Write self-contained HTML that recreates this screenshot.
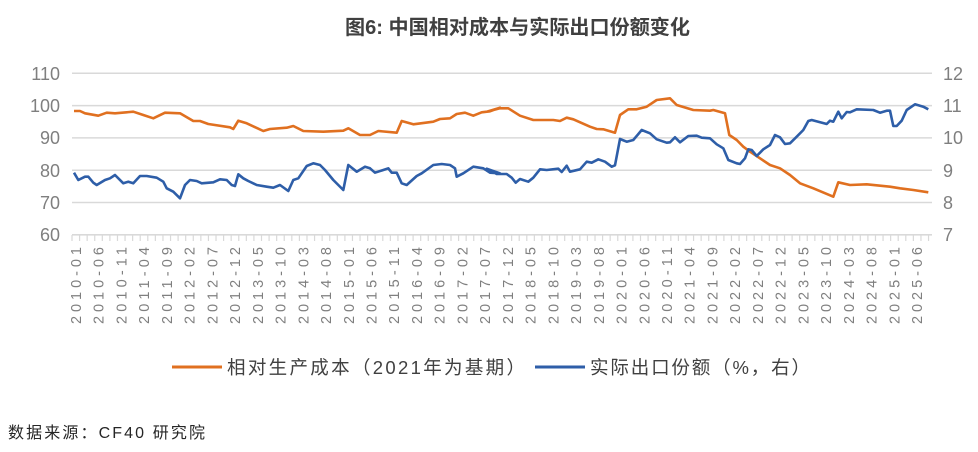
<!DOCTYPE html>
<html><head><meta charset="utf-8"><style>
html,body{margin:0;padding:0;background:#fff;width:978px;height:452px;overflow:hidden}
svg{display:block}
text{font-family:"Liberation Sans","Noto Sans CJK SC",sans-serif}
</style></head><body>
<svg id="s" width="978" height="452" viewBox="0 0 978 452" xmlns="http://www.w3.org/2000/svg">
<text x="345" y="34" font-size="20" font-weight="bold" fill="#404040" textLength="345" lengthAdjust="spacingAndGlyphs">图6: 中国相对成本与实际出口份额变化</text>
<g stroke="#d9d9d9" stroke-width="1.5">
<line x1="72" x2="932" y1="73.3" y2="73.3"/><line x1="72" x2="932" y1="105.6" y2="105.6"/>
<line x1="72" x2="932" y1="137.9" y2="137.9"/><line x1="72" x2="932" y1="170.2" y2="170.2"/>
<line x1="72" x2="932" y1="202.5" y2="202.5"/><line x1="72" x2="932" y1="234.8" y2="234.8"/>
</g>
<g font-size="18" fill="#7f7f7f" text-anchor="end">
<text x="60" y="80">110</text><text x="60" y="112">100</text><text x="60" y="144">90</text>
<text x="60" y="177">80</text><text x="60" y="209">70</text><text x="60" y="241">60</text>
</g>
<g font-size="18" fill="#7f7f7f">
<text x="943" y="80">12</text><text x="943" y="112">11</text><text x="943" y="144">10</text>
<text x="943" y="177">9</text><text x="943" y="209">8</text><text x="943" y="241">7</text>
</g>
<g id="ticks" stroke="#d9d9d9" stroke-width="1.2"></g>
<g id="xl" font-size="14.5" fill="#7f7f7f"></g>
<polyline id="o" fill="none" stroke="#e07020" stroke-width="2.6" stroke-linejoin="round"/>
<polyline id="b" fill="none" stroke="#2e5ea8" stroke-width="2.6" stroke-linejoin="round"/>
<line x1="172" x2="222" y1="367" y2="367" stroke="#e07020" stroke-width="3"/>
<text x="227" y="374" font-size="18.5" fill="#404040" textLength="298" lengthAdjust="spacing">相对生产成本（2021年为基期）</text>
<line x1="535" x2="585" y1="367" y2="367" stroke="#2e5ea8" stroke-width="3"/>
<text x="590" y="374" font-size="18.5" fill="#404040" textLength="220" lengthAdjust="spacing">实际出口份额（%，右）</text>
<text x="8" y="438" font-size="16" fill="#262626" textLength="197" lengthAdjust="spacing">数据来源：CF40 研究院</text>
</svg>
<script>
var o1=[222,183,240,183,255,190,295,197,320,188,345,190,400,185,430,195,460,205,495,188,540,190,580,213,600,213,625,222,690,232,700,237,715,212,740,220,790,243,810,237,860,233,880,228,910,243,970,245,1030,242,1045,235,1080,255,1110,255,1135,243,1190,248,1205,213,1240,223,1300,215,1320,207,1350,205,1370,192,1395,188,1420,197,1445,187,1470,184,1500,173];
var o2=[20,185,60,175,85,175,120,197,160,210,220,210,240,213,260,203,280,208,330,230,350,237,370,238,405,248,420,195,445,178,470,178,500,170,530,150,570,145,590,165,640,180,690,182,700,180,735,190,748,255,770,270,790,290,810,305,840,325,870,345,900,355,930,375,960,400,1000,415,1060,440,1075,397,1110,405,1160,403,1230,410,1260,415,1300,420,1345,427];
var b1=[222,368,235,390,255,380,265,380,280,398,290,405,315,390,330,385,345,375,370,400,385,395,400,400,420,378,440,378,470,383,490,395,500,415,520,425,540,445,555,405,570,390,590,393,605,400,640,397,660,388,680,390,695,405,705,408,715,373,730,385,745,393,770,405,800,410,820,413,840,405,865,423,880,390,895,385,920,348,940,340,960,345,975,360,1000,390,1030,420,1045,345,1070,365,1095,350,1110,355,1125,368,1150,360,1165,355,1175,368,1190,368,1205,400,1220,405,1250,378,1265,370,1300,345,1325,342,1350,345,1365,355,1370,380,1390,370,1420,350,1450,355,1470,368,1500,370];
var b2=[20,356,50,372,80,372,95,383,107,398,120,387,145,395,160,383,180,358,200,360,235,356,245,366,260,347,270,365,300,358,320,335,335,338,355,328,375,335,395,350,405,346,420,267,440,275,460,270,485,240,510,250,530,268,560,278,570,277,585,262,600,277,625,258,650,257,665,263,690,265,710,283,730,295,745,330,770,340,780,342,795,325,805,298,815,300,830,318,850,298,870,285,885,255,900,262,915,282,930,280,950,260,970,240,985,213,995,210,1040,222,1050,212,1060,215,1075,185,1085,205,1100,186,1110,187,1130,178,1180,180,1200,188,1220,182,1230,182,1240,228,1250,228,1265,212,1280,180,1305,163,1330,170,1345,178];
function pts(a,ox){var r=[];for(var i=0;i<a.length;i+=2)r.push((a[i]/3+ox).toFixed(1)+','+(50+a[i+1]/3).toFixed(1));return r;}
document.getElementById('o').setAttribute('points',pts(o1,0).concat(pts(o2,480)).join(' '));
document.getElementById('b').setAttribute('points',pts(b1,0).concat(pts(b2,480)).join(' '));
var ns='http://www.w3.org/2000/svg',tk=document.getElementById('ticks'),xl=document.getElementById('xl');
var ax=document.createElementNS(ns,'line');ax.setAttribute('x1',72);ax.setAttribute('x2',932);ax.setAttribute('y1',235);ax.setAttribute('y2',235);tk.appendChild(ax);
for(var x=72;x<=933;x+=7.58){var l=document.createElementNS(ns,'line');l.setAttribute('x1',x);l.setAttribute('x2',x);l.setAttribute('y1',235);l.setAttribute('y2',241);tk.appendChild(l);}
for(var i=0;i<=185;i+=5){var y=2010+Math.floor(i/12),m=i%12+1;var t=document.createElementNS(ns,'text');var x=76+i*4.546;
t.setAttribute('transform','translate('+(x+5)+',247) rotate(-90)');t.setAttribute('text-anchor','end');t.setAttribute('textLength','77');t.setAttribute('lengthAdjust','spacing');t.textContent=y+'-'+(m<10?'0':'')+m;xl.appendChild(t);}
</script>
</body></html>
